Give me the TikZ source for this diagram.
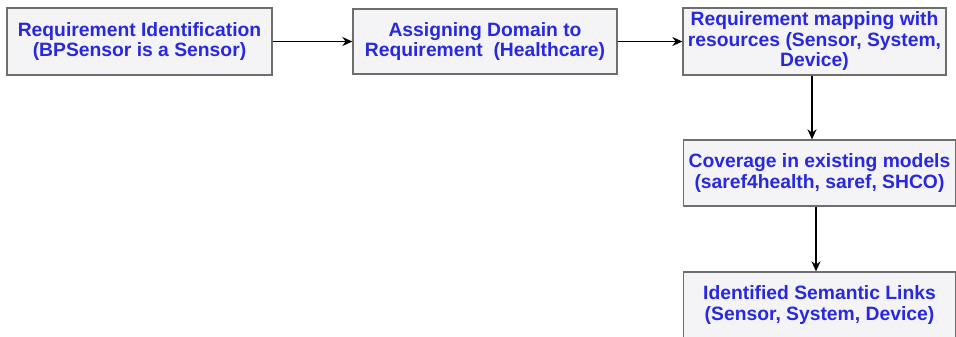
\documentclass[tikz,border=0pt]{standalone}
\usepackage{fontspec}
\setmainfont{Liberation Sans}
\usetikzlibrary{arrows.meta}
\definecolor{txtblue}{RGB}{40,40,225}
\definecolor{boxfill}{RGB}{244,244,246}
\definecolor{boxline}{RGB}{110,110,110}
\tikzset{
  stepbox/.style={draw=boxline, line width=1.3pt, fill=boxfill, inner sep=0pt,
    text=txtblue, align=center, font=\fontsize{19.3}{20.5}\selectfont\bfseries},
  flow/.style={-{Stealth[length=10pt,width=9pt]}, line width=1.5pt, black}
}
\begin{document}
\begin{tikzpicture}[x=1pt,y=1pt]
\useasboundingbox (0,0) rectangle (956,-337);
\fill[white] (0,0) rectangle (956,-337);
\node[stepbox, minimum width=265pt, minimum height=67pt] (b1) at (139.5,-41.5)
  {Requirement Identification\\(BPSensor is a Sensor)};
\node[stepbox, minimum width=264pt, minimum height=65pt] (b2) at (485,-41.5)
  {Assigning Domain to\\Requirement\ \ (Healthcare)};
\node[stepbox, minimum width=263pt, minimum height=67pt] (b3) at (814.5,-41.5)
  {Requirement mapping with\\resources (Sensor, System,\\Device)};
\node[stepbox, minimum width=272pt, minimum height=66pt] (b4) at (819.5,-173)
  {Coverage in existing models\\(saref4health, saref, SHCO)};
\node[stepbox, minimum width=272pt, minimum height=66pt] (b5) at (819.5,-305)
  {Identified Semantic Links\\(Sensor, System, Device)};
\draw[flow] (b1.east) -- (b2.west);
\draw[flow] (b2.east) -- (b3.west);
\draw[flow] ([xshift=-2.5pt]b3.south) -- ([xshift=-2.5pt]b3.south |- b4.north);
\draw[flow] ([xshift=-3.5pt]b4.south) -- ([xshift=-3.5pt]b4.south |- b5.north);
\end{tikzpicture}
\end{document}
